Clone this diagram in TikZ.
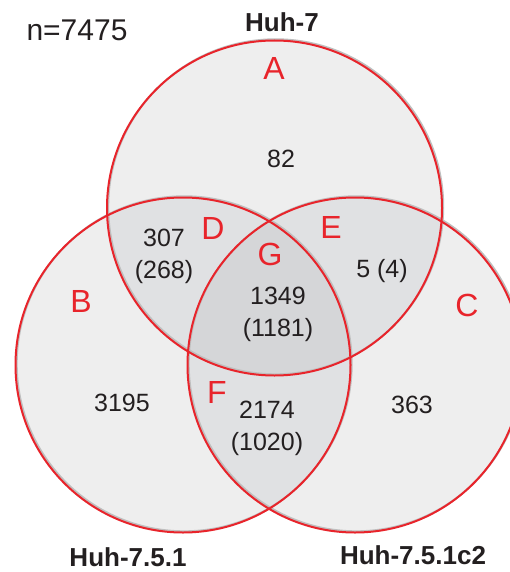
\documentclass[tikz,border=0pt]{standalone}
\usepackage{fontspec}
\setmainfont{Liberation Sans}
\usepackage{xcolor}
\usepackage{tikz}
\usetikzlibrary{positioning}
\definecolor{vred}{HTML}{E8242B}
\definecolor{ink}{HTML}{231F20}
\definecolor{onefill}{HTML}{EEEEEE}
\definecolor{twofill}{HTML}{E0E1E3}
\definecolor{threefill}{HTML}{D5D6D8}

\begin{document}
\begin{tikzpicture}[x=1pt, y=-1pt,
  every node/.style={font=\fontsize{25}{32}\selectfont, text=ink, align=center},
  region/.style={font=\fontsize{32}{36}\selectfont, text=vred},
  setname/.style={font=\bfseries\fontsize{26}{30}\selectfont},
  ring/.style={draw=vred, line width=2pt}]
  \useasboundingbox (0,0) rectangle (510,572);
  \def\rad{167.5}
  \coordinate (top) at (274.5,208);
  \coordinate (left) at (183,365);
  \coordinate (right) at (355,365);
  % shading
  \fill[onefill] (top) circle[radius=\rad] (left) circle[radius=\rad] (right) circle[radius=\rad];
  \begin{scope}
    \clip (top) circle[radius=\rad];
    \fill[twofill] (left) circle[radius=\rad];
    \fill[twofill] (right) circle[radius=\rad];
  \end{scope}
  \begin{scope}
    \clip (left) circle[radius=\rad];
    \fill[twofill] (right) circle[radius=\rad];
  \end{scope}
  \begin{scope}
    \clip (top) circle[radius=\rad];
    \clip (left) circle[radius=\rad];
    \fill[threefill] (right) circle[radius=\rad];
  \end{scope}
  % outlines
  \foreach \c in {top, left, right}
    \draw[black!25, line width=2pt] ([shift={(1.2,-1.2)}]\c) circle[radius=\rad];
  \foreach \c in {top, left, right}
    \draw[ring] (\c) circle[radius=\rad];
  % texts
  \node[font=\fontsize{30}{34}\selectfont] (total) at (77,30) {n=7475};
  \node[setname] (huh7) at (282,22) {Huh-7};
  \node[setname] (huh751) at (128,557) {Huh-7.5.1};
  \node[setname] (huh751c2) at (413,555) {Huh-7.5.1c2};
  \node[region] (ra) at (274,68) {A};
  \node[region] (rb) at (81,301) {B};
  \node[region] (rc) at (467,305) {C};
  \node[region] (rd) at (213,228) {D};
  \node[region] (re) at (331,227) {E};
  \node[region] (rf) at (217,392) {F};
  \node[region] (rg) at (270,254) {G};
  \node (na) at (281,159) {82};
  \node (nb) at (122,403) {3195};
  \node (nc) at (412,405) {363};
  \node (nd) at (164,256) {307\\(268)};
  \node (ne) at (382,271) {5 (4)};
  \node (nf) at (267,428) {2174\\(1020)};
  \node (ng) at (278,314) {1349\\(1181)};
\end{tikzpicture}
\end{document}
